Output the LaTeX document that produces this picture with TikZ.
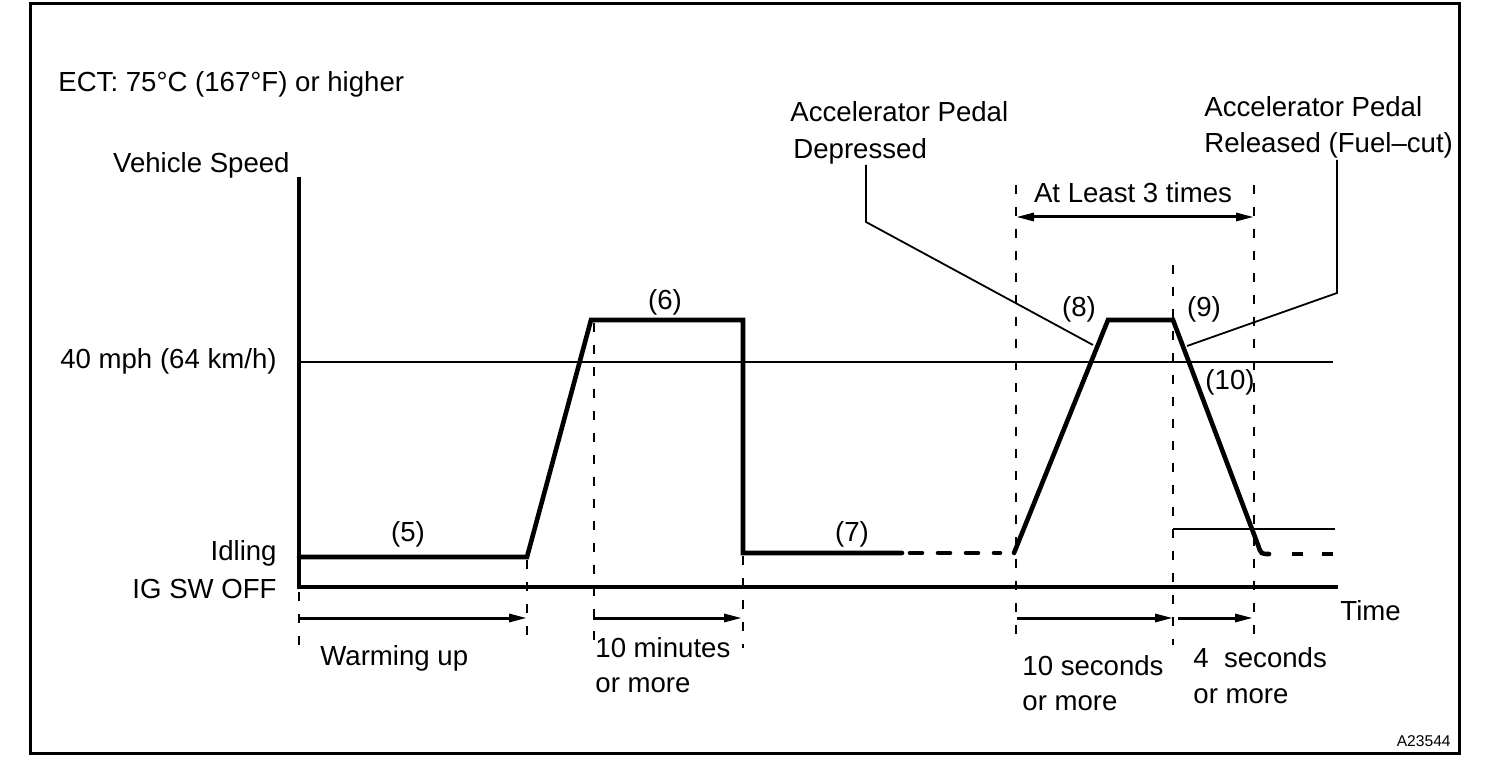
\documentclass[tikz,border=0pt]{standalone}
\usepackage{fontspec}
\setmainfont{Liberation Sans}
\usetikzlibrary{arrows.meta}
\tikzset{
  speed/.style={line width=2.3pt, line cap=round},
  axis/.style={line width=2.3pt},
  level/.style={line width=0.9pt},
  guide/.style={line width=0.9pt, dash pattern=on 4.5pt off 6.5pt},
  span/.style={line width=1.5pt, -{Triangle[length=9pt,width=4pt]}},
  txt/.style={inner sep=0pt, font=\fontsize{13.8}{16}\selectfont},
}
\begin{document}
\begin{tikzpicture}[x=0.5pt,y=-0.5pt]
\useasboundingbox (0,0) rectangle (1504,774);
\draw[line width=1.5pt] (30,4) rectangle (1459,753);

% axes and speed levels
\coordinate (o) at (299,587); \coordinate (ytop) at (299,177); \coordinate (xend) at (1338,587);
\draw[axis] (ytop) -- (o) -- (xend);
\draw[level] (299,362) coordinate (m0) -- (1333,362) coordinate (m1);
\draw[level] (1173,529) coordinate (c0) -- (1335,529) coordinate (c1);

% speed profile
\draw[speed] (299,557) -- (527,557) coordinate (w1) -- (591,320) coordinate (h0) -- (743,320) coordinate (h1) -- (743,553) -- (902,553);
\draw[speed, dash pattern=on 6pt off 8pt] (910,553) -- (1000,553);
\draw[speed] (1014,553) coordinate (r0) -- (1108,320) coordinate (t0) -- (1173,320) coordinate (t1) -- (1258,545) .. controls (1261,554) .. (1269,554);
\draw[speed, dash pattern=on 5.5pt off 9.5pt, line cap=butt] (1292,554) -- (1333,554);

% guide lines
\foreach \x/\a/\b in {299/592/645, 527/560/645, 594/323/648, 743/556/648, 1016/185/645, 1173/265/645, 1254/185/645}
  \draw[guide] (\x,\a) -- (\x,\b);

% axis labels
\node[txt, anchor=base west] (ect) at (58,92) {ECT: 75°C (167°F) or higher};
\node[txt, anchor=base east] (vspeed) at (290,173) {Vehicle Speed};
\node[txt, anchor=base east] (mph) at (277,369) {40 mph (64 km/h)};
\node[txt, anchor=base east] (idle) at (277,560) {Idling};
\node[txt, anchor=base east] (igoff) at (277,598) {IG SW OFF};
\node[txt, anchor=base west] (time) at (1340,620) {Time};

% step numbers
\node[txt, anchor=base] (s5) at (408,542) {(5)};
\node[txt, anchor=base] (s6) at (665,310) {(6)};
\node[txt, anchor=base] (s7) at (852,542) {(7)};
\node[txt, anchor=base] (s8) at (1079,317) {(8)};
\node[txt, anchor=base] (s9) at (1204,317) {(9)};
\node[txt, anchor=base] (s10) at (1230,390) {(10)};

% pedal notes with leaders
\node[txt, anchor=base west] (acc1) at (790,122) {Accelerator Pedal};
\node[txt, anchor=base west] (depr) at (793,159) {Depressed};
\node[txt, anchor=base west] (acc2) at (1204,117) {Accelerator Pedal};
\node[txt, anchor=base west] (rel) at (1204,153) {Released (Fuel--cut)};
\coordinate (d0) at (866,165); \coordinate (d1) at (866,222); \coordinate (d2) at (1093,345);
\coordinate (f0) at (1337,160); \coordinate (f1) at (1337,293); \coordinate (f2) at (1187,346);
\draw[level] (d0) -- (d1) -- (d2);
\draw[level] (f0) -- (f1) -- (f2);

% time spans
\node[txt, anchor=base] (least) at (1133,203) {At Least 3 times};
\draw[span, {Triangle[length=9pt,width=4pt]}-{Triangle[length=9pt,width=4pt]}] (1016,217) coordinate (l0) -- (1254,217) coordinate (l1);
\coordinate (a0) at (300,618); \coordinate (a1) at (527,618);
\coordinate (a2) at (593,618); \coordinate (a3) at (742,618);
\coordinate (a4) at (1017,618); \coordinate (a5) at (1173,618);
\coordinate (a6) at (1178,618); \coordinate (a7) at (1253,618);
\draw[span] (a0) -- (a1); \draw[span] (a2) -- (a3);
\draw[span] (a4) -- (a5); \draw[span] (a6) -- (a7);
\node[txt, anchor=base west] (warm) at (320,665) {Warming up};
\node[txt, anchor=base west] (min10) at (595,657) {10 minutes};
\node[txt, anchor=base west] (min10b) at (595,692) {or more};
\node[txt, anchor=base west] (sec10) at (1022,675) {10 seconds};
\node[txt, anchor=base west] (sec10b) at (1022,710) {or more};
\node[txt, anchor=base west] (sec4) at (1193,667) {4 \ seconds};
\node[txt, anchor=base west] (sec4b) at (1193,703) {or more};
\node[inner sep=0pt, anchor=base east, font=\fontsize{7.8}{9}\selectfont] (fig) at (1451,746) {A23544};
\end{tikzpicture}
\end{document}
